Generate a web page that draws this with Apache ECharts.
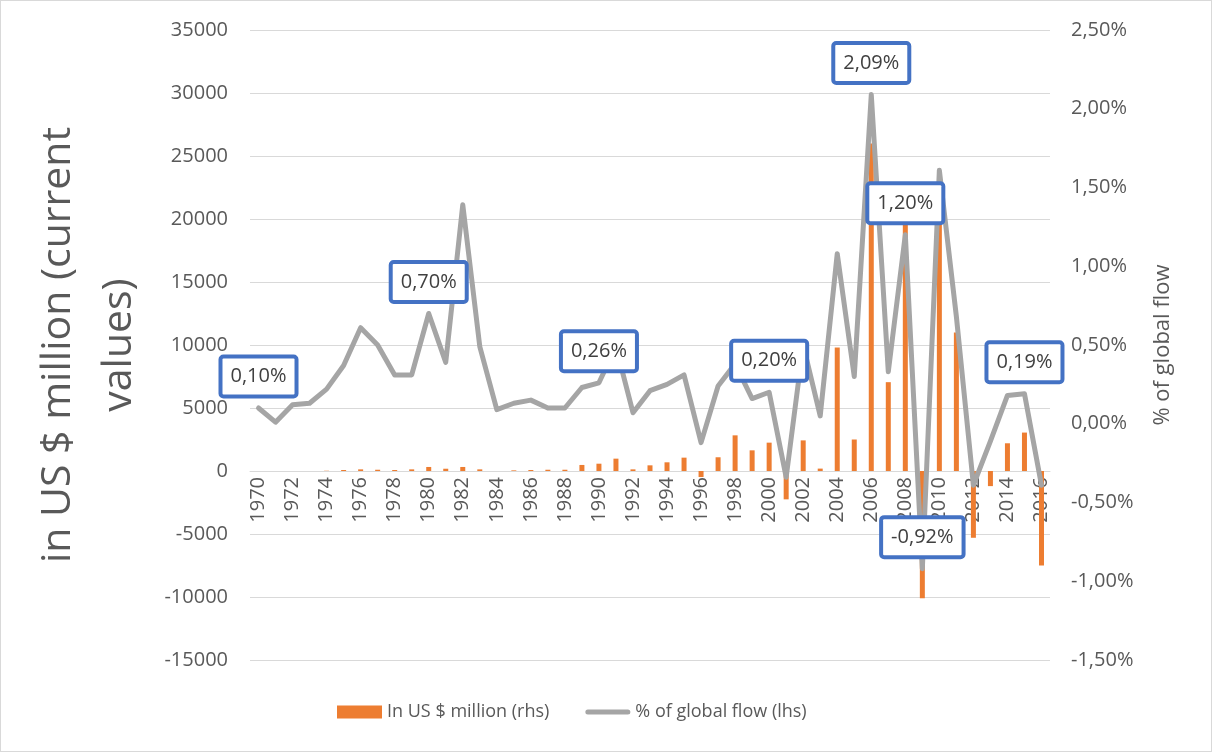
<!DOCTYPE html>
<html>
<head>
<meta charset="utf-8">
<script src="https://cdn.jsdelivr.net/npm/echarts@6/dist/echarts.min.js"></script>
<style>
  html, body { margin: 0; padding: 0; background: #ffffff; }
  #chart { position: absolute; left: 0; top: 0; width: 1212px; height: 752px; }
  #frame { position: absolute; left: 0; top: 0; width: 1212px; height: 752px;
           box-sizing: border-box; border: 1px solid #D9D9D9; pointer-events: none; }
</style>
</head>
<body>
<div id="chart"></div>
<div id="frame"></div>
<script>
// Years on the category axis
const years = [];
for (let y = 1970; y <= 2016; y++) years.push(String(y));

// Flows in US $ million (bars, left scale)
const flowMillion = [
  0, 0, 0, 0, 20, 80, 130, 100, 80, 130,
  320, 180, 320, 130, 0, 50, 80, 100, 100, 480,
  580, 980, 130, 450, 690, 1060, -480, 1090, 2830, 1640,
  2250, -2250, 2430, 190, 9800, 2500, 26000, 7050, 20450, -10100,
  21500, 11000, -5300, -1200, 2200, 3050, -7500
];

// Share of global flow in percent (line, right scale)
const shareOfGlobal = [
  0.10, 0.01, 0.12, 0.13, 0.22, 0.37, 0.61, 0.50, 0.31, 0.31,
  0.70, 0.39, 1.39, 0.49, 0.09, 0.13, 0.15, 0.10, 0.10, 0.23,
  0.26, 0.49, 0.07, 0.21, 0.25, 0.31, -0.12, 0.24, 0.38, 0.16,
  0.20, -0.34, 0.50, 0.05, 1.08, 0.30, 2.09, 0.33, 1.20, -0.92,
  1.61, 0.68, -0.39, -0.11, 0.18, 0.19, -0.39
];

// Years whose share gets a call-out label
const labelledYears = ['1970', '1980', '1990', '2000', '2006', '2008', '2009', '2015'];

const barName = 'In US $ million (rhs)';
const lineName = '% of global flow (lhs)';

const FONT = '"Open Sans", "Noto Sans", sans-serif';
const TXT = '#595959';
const GRID = '#D9D9D9';

// Plot rectangle
const GRID_TOP = 30, GRID_BOTTOM = 92, PLOT_H = 752 - GRID_TOP - GRID_BOTTOM;
const LEFT_MIN = -15000, LEFT_MAX = 35000;
// The category axis sits on the zero line of the left scale
const xAxisOffset = -PLOT_H * (0 - LEFT_MIN) / (LEFT_MAX - LEFT_MIN);

const fmtPct = v => v.toFixed(2).replace('.', ',') + '%';

const lineData = shareOfGlobal.map((v, i) => {
  if (labelledYears.indexOf(years[i]) < 0) return v;
  return {
    value: v,
    label: {
      show: true,
      position: 'top',
      distance: 13,
      formatter: p => fmtPct(p.value),
      fontFamily: FONT,
      fontSize: 20,
      lineHeight: 24,
      color: '#404040',
      backgroundColor: '#ffffff',
      borderColor: '#4472C4',
      borderWidth: 4,
      borderRadius: 1,
      padding: [6, 8, 6, 8]
    }
  };
});

// Thick rounded stroke used as the line's legend key
const lineKey = 'path://M2.5,0 H42.5 A2.5,2.5 0 0 1 42.5,5 H2.5 A2.5,2.5 0 0 1 2.5,0 Z';

const chart = echarts.init(document.getElementById('chart'), null, { renderer: 'canvas' });

chart.setOption({
  animation: false,
  backgroundColor: '#ffffff',
  textStyle: { fontFamily: FONT },
  grid: { left: 250, right: 162, top: GRID_TOP, bottom: GRID_BOTTOM, containLabel: false },
  legend: {
    bottom: 26,
    left: 332,
    itemGap: 36,
    itemWidth: 45,
    itemHeight: 13,
    textStyle: { fontFamily: FONT, fontSize: 18, color: TXT },
    data: [
      { name: barName, icon: 'rect' },
      { name: lineName, icon: lineKey }
    ]
  },
  xAxis: {
    type: 'category',
    data: years,
    boundaryGap: true,
    position: 'bottom',
    offset: xAxisOffset,
    axisLine: { show: true, onZero: false, lineStyle: { color: GRID, width: 1 } },
    axisTick: { show: false },
    axisLabel: {
      interval: 1,
      rotate: 90,
      margin: 6,
      fontFamily: FONT,
      fontSize: 20,
      color: TXT
    },
    splitLine: { show: false }
  },
  yAxis: [
    {
      type: 'value',
      min: LEFT_MIN,
      max: LEFT_MAX,
      interval: 5000,
      position: 'left',
      name: 'in US $ million (current\nvalues)',
      nameLocation: 'middle',
      nameRotate: 90,
      nameGap: 100,
      nameTextStyle: { fontFamily: FONT, fontSize: 41, lineHeight: 61, color: TXT },
      axisLine: { show: false },
      axisTick: { show: false },
      axisLabel: { margin: 22, fontFamily: FONT, fontSize: 20, color: TXT, formatter: v => String(v) },
      splitLine: { show: true, lineStyle: { color: GRID, width: 1 } }
    },
    {
      type: 'value',
      min: -1.5,
      max: 2.5,
      interval: 0.5,
      position: 'right',
      name: '% of global flow',
      nameLocation: 'middle',
      nameRotate: 90,
      nameGap: 102,
      nameTextStyle: { fontFamily: FONT, fontSize: 22, color: TXT },
      axisLine: { show: false },
      axisTick: { show: false },
      axisLabel: { margin: 21, fontFamily: FONT, fontSize: 20, color: TXT, formatter: v => fmtPct(v) },
      splitLine: { show: false }
    }
  ],
  series: [
    {
      name: barName,
      type: 'bar',
      yAxisIndex: 0,
      data: flowMillion,
      barWidth: 5,
      itemStyle: { color: '#ED7D31' },
      z: 2
    },
    {
      name: lineName,
      type: 'line',
      yAxisIndex: 1,
      data: lineData,
      showSymbol: true,
      symbol: 'circle',
      symbolSize: 1,
      lineStyle: { color: '#A5A5A5', width: 5, cap: 'round', join: 'round' },
      itemStyle: { color: '#A5A5A5' },
      z: 3
    }
  ]
});
</script>
</body>
</html>
